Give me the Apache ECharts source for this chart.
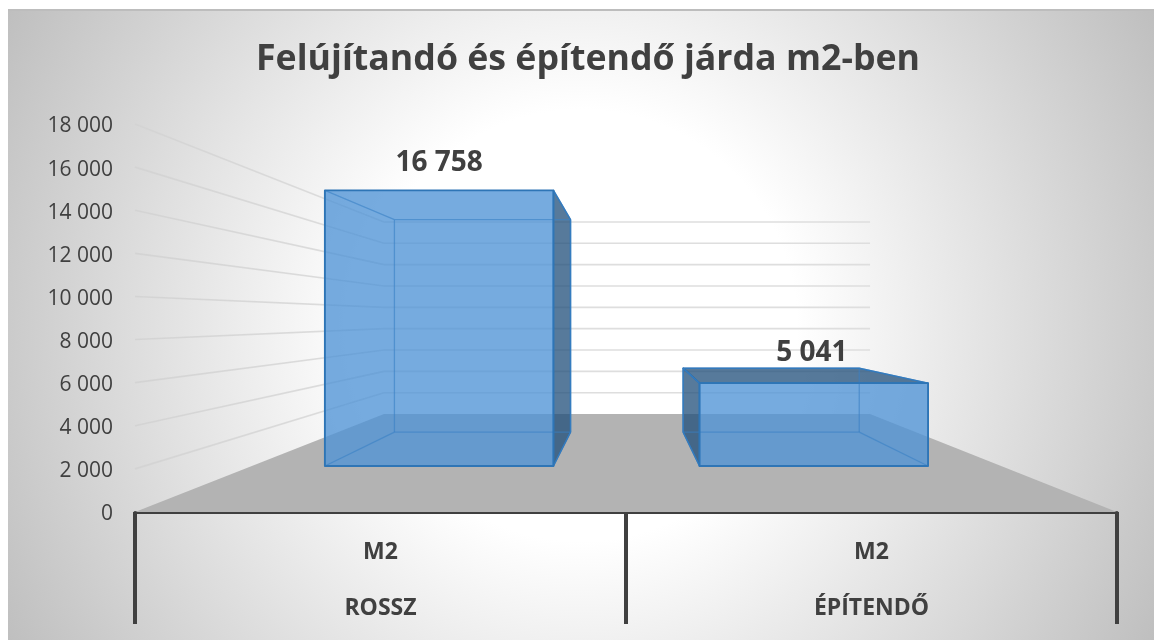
<!DOCTYPE html>
<html><head><meta charset="utf-8">
<style>
html,body{margin:0;padding:0;background:#fff;width:1154px;height:641px;overflow:hidden}
#card{position:absolute;left:8px;top:9px;width:1146px;height:631px;box-sizing:border-box;border-top:2px solid #bdbdbd;
background:radial-gradient(circle farthest-corner at 50% 50%,#ffffff 0%,#ffffff 33%,#bfbfbf 100%)}
#chart{position:absolute;left:0;top:0;width:1154px;height:641px}
</style>
<script src="https://cdn.jsdelivr.net/npm/echarts@6/dist/echarts.min.js"></script>
</head><body><div id="card"></div><div id="chart"></div>
<script>
var titleText = 'Felújítandó és építendő járda m2-ben';
var categories = ['ROSSZ', 'ÉPÍTENDŐ'];
var unitLabels = ['M2', 'M2'];
var values = [16758, 5041];
var gridTicks = [2000, 4000, 6000, 8000, 10000, 12000, 14000, 16000, 18000];

var BACK = 0.495, BAR_FRONT = 0.763, BAR_BACK = 0.588, BAR_W = 0.61;
var INK = '#404040';

function fmt(v){ return String(v).replace(/\B(?=(\d{3})+$)/g, ' '); }
function pathOf(pts, style, z){
  return {type:'polygon', shape:{points:pts}, style:style, z2:z||0, silent:true};
}
function lineOf(a, b, stroke, w){
  return {type:'line', shape:{x1:a[0],y1:a[1],x2:b[0],y2:b[1]}, style:{stroke:stroke,lineWidth:w,fill:null}, silent:true};
}
function persp(cs){
  var vx = cs.x + cs.width/2 + 2, vy = cs.y + cs.height/2;
  return function(p, s){ return [vx + (p[0]-vx)*s, vy + (p[1]-vy)*s]; };
}

var option = {
  animation:false,
  backgroundColor:'transparent',
  title:{text:titleText,left:583,top:37,textAlign:'center',
    textStyle:{fontFamily:'Open Sans',fontWeight:'bold',fontSize:35.7,color:INK}},
  grid:{left:135,right:37,top:124,bottom:129,containLabel:false,outerBoundsMode:'none'},
  xAxis:{type:'category',data:categories,
    axisLine:{lineStyle:{color:INK,width:3}},
    axisTick:{show:true,alignWithLabel:false,length:112,lineStyle:{color:INK,width:4}},
    axisLabel:{interval:0,margin:12,lineHeight:56,fontFamily:'Open Sans',fontWeight:'bold',fontSize:23,color:INK,
      formatter:function(v,i){return unitLabels[i]+'\n'+v;}},
    splitLine:{show:false}},
  yAxis:{type:'value',min:0,max:18000,interval:2000,
    axisLine:{show:false},axisTick:{show:false},splitLine:{show:false},
    axisLabel:{margin:22,verticalAlign:'top',lineHeight:5,fontFamily:'Open Sans',fontSize:21,color:INK,formatter:fmt}},
  series:[
    {type:'custom',name:'floor',coordinateSystem:'cartesian2d',data:[[0,0]],encode:{x:0,y:1},z:1,silent:true,
     renderItem:function(params,api){
       var cs=params.coordSys,P=persp(cs);
       var y0=api.coord([0,0])[1];
       var a=[cs.x,y0],b=[cs.x+cs.width,y0];
       return pathOf([a,b,P(b,BACK),P(a,BACK)],{fill:'#b3b3b3'});
     }},
    {type:'custom',name:'walls',coordinateSystem:'cartesian2d',data:gridTicks.map(function(v){return [0,v];}),encode:{x:0,y:1},z:2,silent:true,
     renderItem:function(params,api){
       var cs=params.coordSys,P=persp(cs);
       var y=api.coord([0,api.value(1)])[1];
       var a=[cs.x,y],b=[cs.x+cs.width,y],c=P(a,BACK);
       var fade={type:'linear',global:true,x:a[0],y:a[1],x2:c[0],y2:c[1],
         colorStops:[{offset:0,color:'#d3d3d3'},{offset:1,color:'#dedede'}]};
       return {type:'group',children:[
         lineOf(a,c,fade,1.6),
         lineOf(c,P(b,BACK),'#dedede',1.6)
       ]};
     }},
    {type:'custom',name:'M2',coordinateSystem:'cartesian2d',
     data:values.map(function(v,i){return [i,v];}),encode:{x:0,y:1},z:3,
     renderItem:function(params,api){
       var cs=params.coordSys,P=persp(cs);
       var vx=cs.x+cs.width/2,vy=cs.y+cs.height/2;
       var c=api.coord([api.value(0),api.value(1)]);
       var base=api.coord([api.value(0),0]);
       var w=api.size([1,0])[0]*BAR_W;
       var l=c[0]-w/2,r=c[0]+w/2;
       var TL=[l,c[1]],TR=[r,c[1]],BL=[l,base[1]],BR=[r,base[1]];
       var f={tl:P(TL,BAR_FRONT),tr:P(TR,BAR_FRONT),bl:P(BL,BAR_FRONT),br:P(BR,BAR_FRONT)};
       var k={tl:P(TL,BAR_BACK),tr:P(TR,BAR_BACK),bl:P(BL,BAR_BACK),br:P(BR,BAR_BACK)};
       var dark={fill:'rgba(31,78,121,0.75)',stroke:'#2e75b6',lineWidth:1.5,lineJoin:'round'};
       var kids=[];
       if(r<vx) kids.push(pathOf([f.tr,k.tr,k.br,f.br],dark));
       if(l>vx) kids.push(pathOf([f.tl,k.tl,k.bl,f.bl],dark));
       if(f.tl[1]>vy) kids.push(pathOf([f.tl,f.tr,k.tr,k.tl],dark));
       kids.push(pathOf([f.tl,f.tr,f.br,f.bl],{fill:'rgba(80,148,214,0.78)'}));
       var inner='rgba(56,128,196,0.6)';
       kids.push(lineOf(k.tl,k.tr,inner,1.3),lineOf(k.tr,k.br,inner,1.3),lineOf(k.br,k.bl,inner,1.3),lineOf(k.bl,k.tl,inner,1.3));
       kids.push(lineOf(f.tl,k.tl,inner,1.3),lineOf(f.tr,k.tr,inner,1.3),lineOf(f.bl,k.bl,inner,1.3),lineOf(f.br,k.br,inner,1.3));
       kids.push(pathOf([f.tl,f.tr,f.br,f.bl],{fill:null,stroke:'#2e75b6',lineWidth:1.9,lineJoin:'round'}));
       var topY=Math.min(f.tl[1],k.tl[1]);
       var lx=(f.tl[0]+f.tr[0])/2 - (l>vx?2:0);
       kids.push({type:'text',silent:true,style:{text:fmt(api.value(1)),x:lx,y:topY-(l>vx?15:27),
         align:'center',verticalAlign:'middle',fontFamily:'Open Sans',fontWeight:'bold',fontSize:28,fill:INK}});
       return {type:'group',children:kids};
     }}
  ]
};
var chart=echarts.init(document.getElementById('chart'),null,{renderer:'canvas'});
chart.setOption(option);
</script></body></html>
